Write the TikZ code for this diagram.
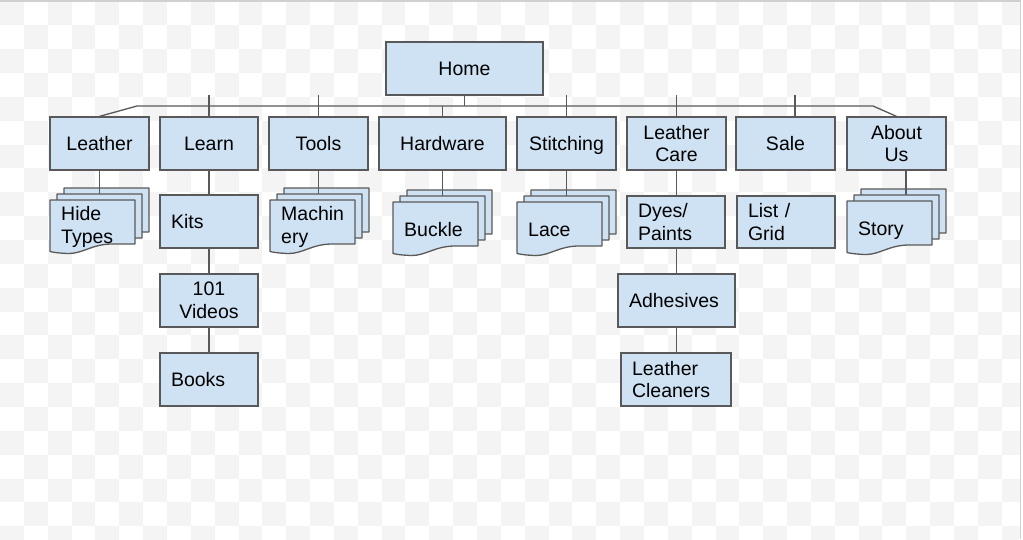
\documentclass[tikz,border=0pt]{standalone}
\usepackage{fontspec}
\setmainfont{Liberation Sans}
\definecolor{boxfill}{HTML}{CFE2F3}
\definecolor{boxline}{HTML}{595959}
\definecolor{checker}{HTML}{F4F4F4}
\definecolor{frameline}{HTML}{D0D0D0}
\tikzset{
  base/.style={draw=boxline, fill=boxfill, line width=1.3pt, inner sep=0pt,
    font=\fontsize{19.5}{22.5}\selectfont, text=black},
  cbox/.style={base, minimum width=#1, minimum height=53pt, align=center},
  lbox/.style 2 args={base, minimum width=#1, minimum height=53pt, text width=#2, align=left},
  one/.style={text height=14pt, text depth=0pt},
  conn/.style={draw=boxline, line width=1.3pt},
  sheet/.style={draw=boxline, fill=boxfill, line width=1.3pt, line join=round},
  doctext/.style={font=\fontsize{19.5}{22.5}\selectfont, text=black, inner sep=0pt, align=left, anchor=west},
}
\newcommand{\docsheet}[2]{%
  \draw[sheet] (#1,#2) -- ({#1+85},#2) -- ({#1+85},{#2+44}) -- ({#1+62},{#2+44})
    .. controls ({#1+42},{#2+44}) and ({#1+32},{#2+54}) .. ({#1+18},{#2+53.5})
    .. controls ({#1+10},{#2+53.2}) and ({#1+4},{#2+52.5}) .. (#1,{#2+51.5}) -- cycle;}
\newcommand{\multidoc}[5]{%
  \docsheet{#2+14}{#3-12}
  \docsheet{#2+7}{#3-6}
  \docsheet{#2}{#3}
  \coordinate (#1-mid) at ({#2+7},{#3-6});
  \node[doctext,#5] (#1) at ({#2+11},{#3+27}) {#4};}
\begin{document}
\begin{tikzpicture}[x=1pt, y=-1pt]
\useasboundingbox (0,0) rectangle (1023,539);
\fill[white] (0,0) rectangle (1023,539);
\begin{scope}
  \clip (0,1.5) rectangle (1019.5,539);
  \foreach \j in {0,...,22}{
    \foreach \i in {0,2,...,42}{
      \pgfmathsetmacro\xx{(\i+mod(\j,2))*23.85}
      \fill[checker] (\xx,{1.5+\j*23.85}) rectangle ++(23.85,23.85);
    }}
\end{scope}
\fill[frameline] (0,0) rectangle (1021,1.5);
\fill[frameline] (1019.5,0) rectangle (1021,539);

% level 0 and 1
\node[cbox=157pt, one] (home) at (464.5,68.5) {Home};
\node[cbox=99pt, one] (leather) at (99.5,143.5) {Leather};
\node[cbox=98pt, one] (learn) at (209,143.5) {Learn};
\node[cbox=99pt, one] (tools) at (318.5,143.5) {Tools};
\node[cbox=127pt, one] (hardware) at (442.5,143.5) {Hardware};
\node[cbox=99pt, one] (stitching) at (566.5,143.5) {Stitching};
\node[cbox=99pt] (lcare) at (676.5,143.5) {Leather\\Care};
\node[cbox=99pt, one] (sale) at (785.5,143.5) {Sale};
\node[cbox=99pt] (about) at (896.5,143.5) {About\\Us};

% bus
\coordinate (busL) at (137,106);
\coordinate (busR) at (873,106);
\draw[conn] (leather.north) -- (busL) -- (busR) -- (about.north);
\draw[conn] (home.south) -- (home.south |- busL);
\draw[conn] (learn.north) -- ++(0,-21);
\draw[conn] (tools.north) -- ++(0,-21);
\draw[conn] (hardware.north) -- (hardware.north |- busL);
\draw[conn] (stitching.north) -- ++(0,-21);
\draw[conn] (lcare.north) -- ++(0,-21);
\draw[conn] ([xshift=9.5pt]sale.north) -- ++(0,-21);

% level 2 boxes
\node[lbox={98pt}{76pt}] (kits) at (209,221.5) {Kits};
\node[cbox=98pt] (videos) at (209,300.5) {101\\Videos};
\node[lbox={98pt}{76pt}] (books) at (209,379.5) {Books};
\node[lbox={98pt}{76pt}, minimum height=52pt] (dyes) at (676,222) {Dyes/\\Paints};
\node[lbox={98pt}{76pt}, minimum height=52pt] (listgrid) at (786,222) {List /\\Grid};
\node[lbox={117pt}{95pt}] (adhesives) at (676.5,300.5) {Adhesives};
\node[lbox={110pt}{88pt}] (cleaners) at (676,379.5) {Leather\\Cleaners};

% multi-document shapes
\multidoc{hide}{50}{200}{Hide\\Types}{}
\multidoc{machinery}{270}{200}{Machin\\ery}{}
\multidoc{buckle}{393}{202}{Buckle}{one}
\multidoc{lace}{517}{202}{Lace}{one}
\multidoc{story}{847}{201}{Story}{one}

% level 2 connectors
\draw[conn] (learn.south) -- (kits.north);
\draw[conn] (kits.south) -- (videos.north);
\draw[conn] (videos.south) -- (books.north);
\draw[conn] (lcare.south) -- (lcare.south |- dyes.north);
\draw[conn] (dyes.south -| lcare.south) -- (lcare.south |- adhesives.north);
\draw[conn] (adhesives.south -| lcare.south) -- (lcare.south |- cleaners.north);
\draw[conn] (leather.south) -- (leather.south |- hide-mid);
\draw[conn] (tools.south) -- (tools.south |- machinery-mid);
\draw[conn] (hardware.south) -- (hardware.south |- buckle-mid);
\draw[conn] (stitching.south) -- (stitching.south |- lace-mid);
\draw[conn] ([xshift=9.5pt]about.south) -- ([xshift=9.5pt]about.south |- story-mid);
\end{tikzpicture}
\end{document}
